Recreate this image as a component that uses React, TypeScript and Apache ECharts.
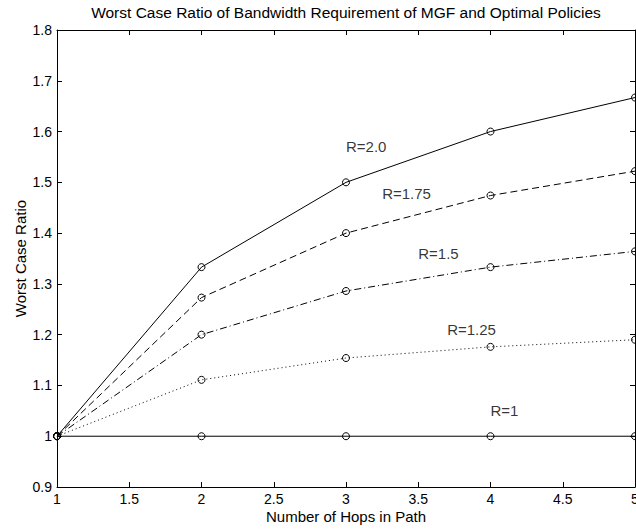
import React, { useEffect, useRef } from "react";
import * as echarts from "echarts";

const hops = [1, 2, 3, 4, 5];
const r200 = [1, 1.333, 1.5, 1.6, 1.667];
const r175 = [1, 1.273, 1.4, 1.474, 1.522];
const r150 = [1, 1.2, 1.286, 1.333, 1.364];
const r125 = [1, 1.111, 1.154, 1.176, 1.19];
const r100 = [1, 1, 1, 1, 1];

const annotationNames = ["R=2.0", "R=1.75", "R=1.5", "R=1.25", "R=1"];
const annotationX = [3.0, 3.25, 3.5, 3.7, 4.0];
const annotationY = [1.57, 1.478, 1.36, 1.21, 1.05];

const FONT = "Liberation Sans";

export default function App() {
  const ref = useRef<HTMLDivElement>(null);
  useEffect(() => {
    const chart = echarts.init(ref.current!, undefined, { renderer: "svg" });
    const mk = (vals: number[], type: any) => ({
      type: "line",
      data: hops.map((h, i) => [h, vals[i]]),
      symbol: "circle",
      symbolSize: 7,
      showSymbol: true,
      clip: false,
      lineStyle: { color: "#000", width: 1, type },
      itemStyle: { color: "rgba(0,0,0,0)", borderColor: "#000", borderWidth: 1 },
      emphasis: { disabled: true },
      z: 3,
    });
    const axisCommon = {
      axisLine: { show: true, onZero: false, lineStyle: { color: "#000", width: 1 } },
      axisTick: { show: true, inside: true, length: 5, lineStyle: { color: "#000", width: 1 } },
      splitLine: { show: false },
    };
    chart.setOption({
      animation: false,
      backgroundColor: "#fff",
      textStyle: { fontFamily: FONT },
      title: {
        text: "Worst Case Ratio of Bandwidth Requirement of MGF and Optimal Policies",
        left: 346,
        textAlign: "center",
        top: 4,
        padding: 0,
        textStyle: { fontFamily: FONT, fontSize: 15.5, fontWeight: "normal", color: "#000" },
      },
      grid: { left: 57, right: 1, top: 30, bottom: 42, containLabel: false, outerBoundsMode: "none" },
      xAxis: [
        {
          ...axisCommon,
          type: "value",
          min: 1,
          max: 5,
          interval: 0.5,
          position: "bottom",
          name: "Number of Hops in Path",
          nameLocation: "middle",
          nameGap: 22,
          nameMoveOverlap: false,
          nameTextStyle: { fontFamily: FONT, fontSize: 15, color: "#000" },
          axisLabel: { fontFamily: FONT, fontSize: 14, color: "#000", margin: 5, showMaxLabel: true, showMinLabel: true, hideOverlap: false },
        },
        {
          ...axisCommon,
          type: "value",
          min: 1,
          max: 5,
          interval: 0.5,
          position: "top",
          axisLabel: { show: false },
        },
      ],
      yAxis: [
        {
          ...axisCommon,
          type: "value",
          min: 0.9,
          max: 1.8,
          interval: 0.1,
          position: "left",
          name: "Worst Case Ratio",
          nameLocation: "middle",
          nameGap: 29,
          nameMoveOverlap: false,
          nameTextStyle: { fontFamily: FONT, fontSize: 15, color: "#000" },
          axisLabel: {
            fontFamily: FONT,
            fontSize: 14,
            color: "#000",
            margin: 5,
            formatter: (v: number) => String(Math.round(v * 10) / 10),
          },
        },
        {
          ...axisCommon,
          type: "value",
          min: 0.9,
          max: 1.8,
          interval: 0.1,
          position: "right",
          axisLabel: { show: false },
        },
      ],
      series: [
        mk(r200, "solid"),
        mk(r175, [7, 4]),
        mk(r150, [7, 3, 1, 3]),
        mk(r125, [1, 3]),
        mk(r100, "solid"),
        {
          type: "scatter",
          symbolSize: 0,
          data: annotationNames.map((n, i) => ({ name: n, value: [annotationX[i], annotationY[i]] })),
          label: {
            show: true,
            position: "right",
            distance: 0,
            formatter: (p: any) => p.name,
            fontFamily: FONT,
            fontSize: 15,
            color: "#000",
          },
          emphasis: { disabled: true },
          silent: true,
        },
      ],
    });
    return () => chart.dispose();
  }, []);
  return <div ref={ref} style={{ width: 636, height: 529, position: "absolute", left: 0, top: 0 }} />;
}
